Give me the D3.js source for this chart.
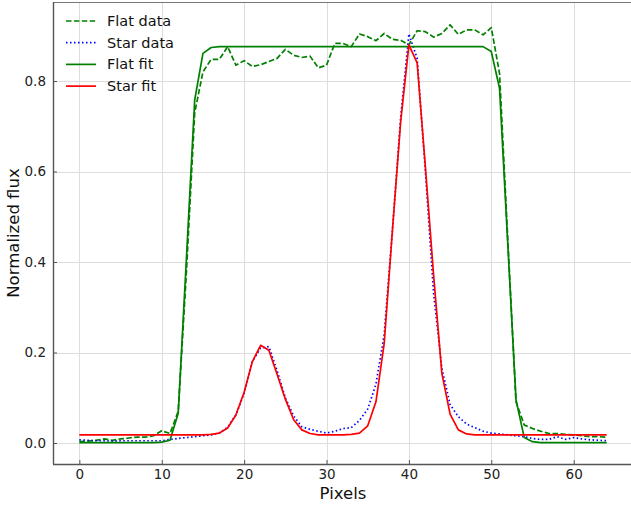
<!DOCTYPE html>
<html><head><meta charset="utf-8">
<script src="https://cdn.jsdelivr.net/npm/d3@7"></script>
<style>body{margin:0;background:#fff}svg{display:block;font-family:"DejaVu Sans",sans-serif}</style>
</head><body><svg id="c" width="631" height="507"></svg>
<script>
const pixels = d3.range(0, 65);
const flatData = [0.003,0.004,0.006,0.009,0.006,0.009,0.011,0.013,0.013,0.016,0.027,0.021,0.07,0.38,0.73,0.82,0.848,0.848,0.876,0.835,0.845,0.832,0.836,0.843,0.85,0.87,0.857,0.852,0.855,0.829,0.835,0.883,0.883,0.876,0.904,0.898,0.889,0.905,0.892,0.89,0.88,0.911,0.909,0.897,0.905,0.924,0.903,0.913,0.913,0.902,0.918,0.817,0.45,0.091,0.04,0.032,0.026,0.021,0.021,0.019,0.018,0.016,0.014,0.014,0.013];
const starData = [0.007,0.006,0.005,0.005,0.004,0.005,0.005,0.005,0.005,0.005,0.005,0.008,0.01,0.012,0.014,0.016,0.018,0.022,0.035,0.062,0.11,0.18,0.21,0.213,0.16,0.1,0.06,0.036,0.03,0.026,0.022,0.026,0.032,0.034,0.05,0.075,0.13,0.24,0.47,0.72,0.904,0.85,0.6,0.33,0.165,0.085,0.058,0.042,0.034,0.026,0.022,0.02,0.018,0.016,0.014,0.01,0.008,0.008,0.014,0.008,0.012,0.009,0.007,0.006,0.005];
const flatFit = [0.001,0.001,0.001,0.001,0.001,0.001,0.001,0.001,0.001,0.001,0.002,0.006,0.066,0.41,0.758,0.861,0.874,0.876,0.876,0.876,0.876,0.876,0.876,0.876,0.876,0.876,0.876,0.876,0.876,0.876,0.876,0.876,0.876,0.876,0.876,0.876,0.876,0.876,0.876,0.876,0.876,0.876,0.876,0.876,0.876,0.876,0.876,0.876,0.876,0.876,0.865,0.784,0.44,0.095,0.012,0.003,0.001,0.001,0.001,0.001,0.001,0.001,0.001,0.001,0.001];
const starFit = [0.018,0.018,0.018,0.018,0.018,0.018,0.018,0.018,0.018,0.018,0.018,0.018,0.018,0.018,0.018,0.018,0.019,0.022,0.033,0.062,0.112,0.18,0.216,0.205,0.152,0.097,0.052,0.029,0.021,0.018,0.018,0.018,0.018,0.019,0.022,0.038,0.091,0.22,0.47,0.71,0.88,0.84,0.61,0.37,0.154,0.064,0.029,0.02,0.018,0.018,0.018,0.018,0.018,0.018,0.018,0.018,0.018,0.018,0.018,0.018,0.018,0.018,0.018,0.018,0.018];
const xTicks = [0,10,20,30,40,50,60];
const yTicks = [0,0.2,0.4,0.6,0.8];
const series = [
  {name:"Flat data", values:flatData, color:"green", dash:"5.5,2.4"},
  {name:"Star data", values:starData, color:"blue", dash:"1.5,2.5"},
  {name:"Flat fit", values:flatFit, color:"green", dash:null},
  {name:"Star fit", values:starFit, color:"red", dash:null}
];

const svg = d3.select("#c");
const L=53, R=633, T=2, B=464;
const x = d3.scaleLinear().domain([-3.2, 67.2]).range([L, R]);
const y = d3.scaleLinear().domain([-0.0464, 0.9746]).range([B, T]);

// grid
const g = svg.append("g");
g.selectAll(".gx").data(xTicks).enter().append("line")
  .attr("x1",d=>Math.round(x(d))+0.5).attr("x2",d=>Math.round(x(d))+0.5)
  .attr("y1",T).attr("y2",B).attr("stroke","#dddddd").attr("stroke-width",1);
g.selectAll(".gy").data(yTicks).enter().append("line")
  .attr("y1",d=>Math.round(y(d))+0.5).attr("y2",d=>Math.round(y(d))+0.5)
  .attr("x1",L).attr("x2",R).attr("stroke","#dddddd").attr("stroke-width",1);

// lines
const line = d3.line().x((d,i)=>x(pixels[i])).y(d=>y(d));
series.forEach(s=>{
  svg.append("path").datum(s.values).attr("d",line)
    .attr("fill","none").attr("stroke",s.color).attr("stroke-width",1.7)
    .attr("stroke-dasharray",s.dash).attr("stroke-linejoin","round");
});

// spines
svg.append("line").attr("x1",L).attr("x2",R).attr("y1",T+0.5).attr("y2",T+0.5).attr("stroke","#777").attr("stroke-width",1.2);
svg.append("line").attr("x1",L+0.5).attr("x2",L+0.5).attr("y1",T).attr("y2",B).attr("stroke","#555").attr("stroke-width",1.4);
svg.append("line").attr("x1",L).attr("x2",R).attr("y1",B+0.5).attr("y2",B+0.5).attr("stroke","#555").attr("stroke-width",1.4);

// axes (ticks inward)
const xAxis = d3.axisBottom(x).tickValues(xTicks).tickFormat(d3.format("d")).tickSizeInner(-4).tickSizeOuter(0).tickPadding(5.5);
const gx = svg.append("g").attr("transform",`translate(0,${B})`).call(xAxis);
gx.select(".domain").remove();
gx.selectAll("line").attr("stroke","#555");
gx.selectAll("text").attr("font-size",13.5).attr("fill","#222").attr("font-family","DejaVu Sans");

const yAxis = d3.axisLeft(y).tickValues(yTicks).tickFormat(d3.format(".1f")).tickSizeInner(-4).tickSizeOuter(0).tickPadding(7);
const gy = svg.append("g").attr("transform",`translate(${L},0)`).call(yAxis);
gy.select(".domain").remove();
gy.selectAll("line").attr("stroke","#555");
gy.selectAll("text").attr("font-size",13.5).attr("fill","#222").attr("font-family","DejaVu Sans");

// axis labels
svg.append("text").attr("x",x(32)).attr("y",499).attr("text-anchor","middle")
  .attr("font-size",16.5).attr("fill","#111").text("Pixels");
svg.append("text").attr("transform",`translate(19,${(T+B)/2}) rotate(-90)`).attr("text-anchor","middle")
  .attr("font-size",16.5).attr("fill","#111").text("Normalized flux");

// legend
const lg = svg.append("g");
series.forEach((s,i)=>{
  const yy = 21 + i*21.7;
  lg.append("line").attr("x1",66).attr("x2",96).attr("y1",yy).attr("y2",yy)
    .attr("stroke",s.color).attr("stroke-width",1.7).attr("stroke-dasharray",s.dash);
  lg.append("text").attr("x",107).attr("y",yy+5).attr("font-size",14.5).attr("fill","#111").text(s.name);
});
</script></body></html>
